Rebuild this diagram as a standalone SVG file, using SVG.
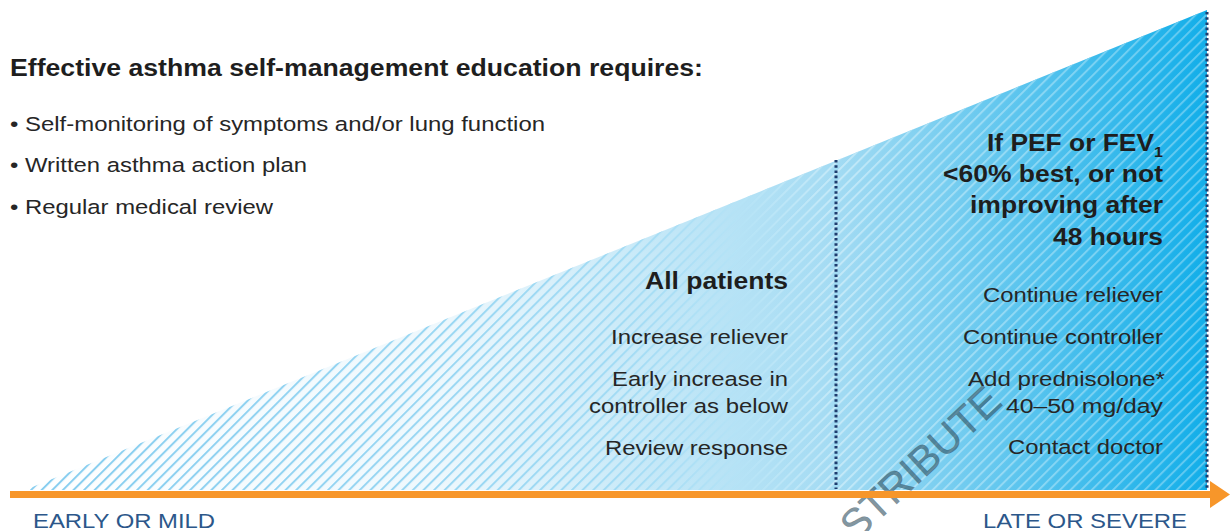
<svg xmlns="http://www.w3.org/2000/svg" width="1230" height="531" viewBox="0 0 1230 531">
  <defs>
    <style>
      .t{font-family:"Liberation Sans",Arial,sans-serif;fill:#262626}
      .h{font-weight:bold;font-size:23px;fill:#1e1e1e}
      .b{font-size:20.5px}
      .r{text-anchor:end}
      .lab{font-family:"Liberation Sans",Arial,sans-serif;font-size:20.5px;fill:#2c578a}
      .dot{stroke:#1f3d6e;stroke-width:3;stroke-dasharray:2.6 2.6;fill:none}
    </style>
    <linearGradient id="bg" gradientUnits="userSpaceOnUse" x1="25" y1="0" x2="1207" y2="0">
      <stop offset="0" stop-color="#ffffff"/>
      <stop offset="0.35" stop-color="#eef8fd"/>
      <stop offset="0.686" stop-color="#a3dbf3"/>
      <stop offset="1" stop-color="#12aee9"/>
    </linearGradient>
    <linearGradient id="sg" gradientUnits="userSpaceOnUse" x1="25" y1="0" x2="1207" y2="0">
      <stop offset="0" stop-color="#86cdef"/>
      <stop offset="0.5" stop-color="#a2dbf4"/>
      <stop offset="0.686" stop-color="#c4e9f8"/>
      <stop offset="1" stop-color="#5ac7f0"/>
    </linearGradient>
    <pattern id="st" patternUnits="userSpaceOnUse" width="20" height="7.5" patternTransform="rotate(-45)">
      <rect x="0" y="0" width="20" height="2" fill="#fff"/>
    </pattern>
    <mask id="m">
      <rect x="0" y="0" width="1230" height="531" fill="url(#st)"/>
    </mask>
    <clipPath id="tri">
      <polygon points="25,490 1207,10 1207,490"/>
    </clipPath>
  </defs>

  <g id="wedge">
    <polygon points="25,490 1207,10 1207,490" fill="url(#bg)"/>
    <rect x="0" y="0" width="1230" height="531" fill="url(#sg)" mask="url(#m)" clip-path="url(#tri)"/>
  </g>

  <g id="watermark">
    <text transform="translate(930,473) rotate(-43)" x="0" y="0" text-anchor="middle" font-family="Liberation Sans, Arial, sans-serif" font-size="41" fill="#2f4f5f" fill-opacity="0.62" stroke="#2f4f5f" stroke-opacity="0.35" stroke-width="0.6" textLength="202" lengthAdjust="spacingAndGlyphs">STRIBUTE</text>
  </g>

  <g id="connectors">
    <line class="dot" x1="836" y1="160" x2="836" y2="489"/>
    <line class="dot" x1="1207" y1="12" x2="1207" y2="489"/>
    <line x1="10" y1="494.5" x2="1213" y2="494.5" stroke="#f7962a" stroke-width="7"/>
    <polygon points="1210,481 1230,494.5 1210,508" fill="#f7962a"/>
  </g>

  <g id="requirements">
    <text x="10" y="76" class="t h" textLength="693" lengthAdjust="spacingAndGlyphs">Effective asthma self-management education requires:</text>
    <text x="10" y="131" class="t b" textLength="535" lengthAdjust="spacingAndGlyphs">• Self-monitoring of symptoms and/or lung function</text>
    <text x="10" y="172" class="t b" textLength="297" lengthAdjust="spacingAndGlyphs">• Written asthma action plan</text>
    <text x="10" y="214" class="t b" textLength="263" lengthAdjust="spacingAndGlyphs">• Regular medical review</text>
  </g>

  <g id="all-patients">
    <text x="788" y="289" class="t h r" textLength="143" lengthAdjust="spacingAndGlyphs">All patients</text>
    <text x="788" y="344" class="t b r" textLength="177" lengthAdjust="spacingAndGlyphs">Increase reliever</text>
    <text x="788" y="386" class="t b r" textLength="176" lengthAdjust="spacingAndGlyphs">Early increase in</text>
    <text x="788" y="413" class="t b r" textLength="199" lengthAdjust="spacingAndGlyphs">controller as below</text>
    <text x="788" y="455" class="t b r" textLength="183" lengthAdjust="spacingAndGlyphs">Review response</text>
  </g>

  <g id="severe">
    <text x="1163" y="151" class="t h r" textLength="176" lengthAdjust="spacingAndGlyphs">If PEF or FEV<tspan font-size="14" dy="6">1</tspan></text>
    <text x="1163" y="182" class="t h r" textLength="220" lengthAdjust="spacingAndGlyphs">&lt;60% best, or not</text>
    <text x="1163" y="213" class="t h r" textLength="193" lengthAdjust="spacingAndGlyphs">improving after</text>
    <text x="1163" y="245" class="t h r" textLength="110" lengthAdjust="spacingAndGlyphs">48 hours</text>
    <text x="1163" y="302" class="t b r" textLength="180" lengthAdjust="spacingAndGlyphs">Continue reliever</text>
    <text x="1163" y="344" class="t b r" textLength="200" lengthAdjust="spacingAndGlyphs">Continue controller</text>
    <text x="1165" y="386" class="t b r" textLength="197" lengthAdjust="spacingAndGlyphs">Add prednisolone*</text>
    <text x="1163" y="413" class="t b r" textLength="157" lengthAdjust="spacingAndGlyphs">40–50 mg/day</text>
    <text x="1163" y="454" class="t b r" textLength="155" lengthAdjust="spacingAndGlyphs">Contact doctor</text>
  </g>

  <g id="axis-labels">
    <text x="33" y="528" class="lab" textLength="182" lengthAdjust="spacingAndGlyphs">EARLY OR MILD</text>
    <text x="1187" y="528" class="lab" text-anchor="end" textLength="204" lengthAdjust="spacingAndGlyphs">LATE OR SEVERE</text>
  </g>
</svg>
